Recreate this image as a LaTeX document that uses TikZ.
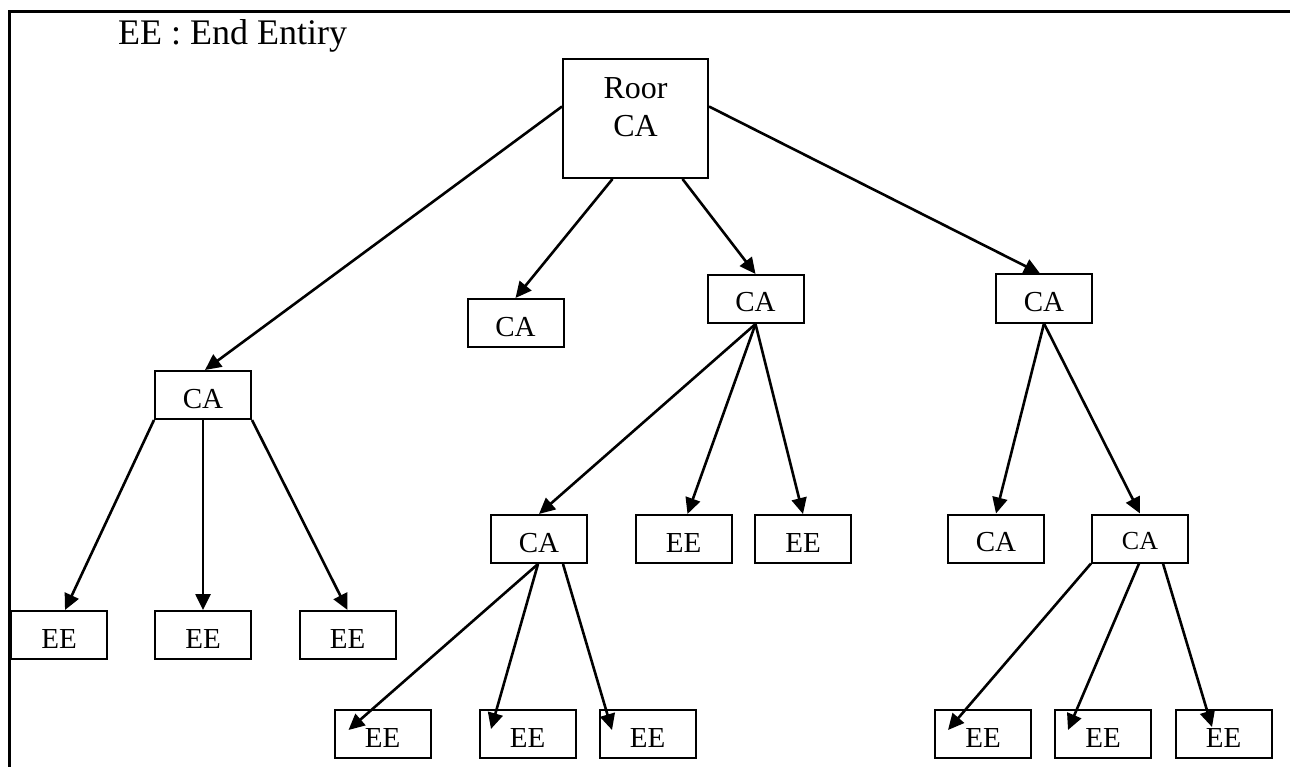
\documentclass[tikz,border=0pt]{standalone}
\usepackage{fontspec}
\setmainfont{Liberation Serif}
\usetikzlibrary{arrows.meta,calc}

\tikzset{
  box/.style={draw, line width=2pt, inner sep=0pt, minimum width=96pt, minimum height=48pt,
              font=\fontsize{29}{34}\selectfont, text height=26pt, text depth=0pt},
  link/.style={line width=2.6pt, -{Triangle[length=16pt,width=15pt]}},
  frame/.style={line width=3pt}
}

\begin{document}
\begin{tikzpicture}[x=1pt, y=-1pt]
  \useasboundingbox (0,0) rectangle (1290,767);

  % outer frame (only top and left edges show)
  \coordinate (fl) at (9,767);
  \coordinate (fc) at (9,12);
  \coordinate (fr) at (1290,12);
  \draw[frame] (fl) -- (fc) -- (fr);

  % legend
  \node[anchor=base west, inner sep=0pt, font=\fontsize{36}{42}\selectfont] (legend) at (118,45) {EE : End Entiry};

  % root certificate authority
  \node[draw, line width=2pt, inner sep=0pt, minimum width=145pt, minimum height=119pt,
        align=center, font=\fontsize{32}{38}\selectfont, text depth=22pt] (root) at (635.5,118.5) {Roor\\CA};

  % first level
  \node[box] (caL) at (203,395) {CA};
  \node[box] (caM) at (515.5,323) {CA};
  \node[box] (caN) at (755.5,299) {CA};
  \node[box] (caR) at (1044,298.5) {CA};

  % second level
  \node[box] (ee1) at (59,635) {EE};
  \node[box] (ee2) at (203,635) {EE};
  \node[box] (ee3) at (347.5,635) {EE};
  \node[box] (caP) at (539,539) {CA};
  \node[box] (eeA) at (683.5,539) {EE};
  \node[box] (eeB) at (803,539) {EE};
  \node[box] (caS) at (996,538.5) {CA};
  \node[box, font=\fontsize{26}{30}\selectfont, text height=21pt] (caT) at (1140,538.5) {CA};

  % third level
  \node[box] (g1) at (382.5,734) {EE};
  \node[box] (g2) at (527.5,734) {EE};
  \node[box] (g3) at (647.5,734) {EE};
  \node[box] (h1) at (983,734) {EE};
  \node[box] (h2) at (1103,734) {EE};
  \node[box] (h3) at (1223.5,734) {EE};

  % connectors
  \draw[link] ($(root.west)+(0,-12)$) -- ($(caL.north)+(2,0)$);
  \draw[link] ($(root.south)+(-23,0)$) -- (caM.north);
  \draw[link] ($(root.south)+(47,0)$) -- (caN.north);
  \draw[link] ($(root.east)+(0,-12)$) -- ($(caR.north)+(-4,0)$);

  \draw[link] (caL.south west) -- ($(ee1.north)+(6,0)$);
  \draw[link] (caL.south) -- (ee2.north);
  \draw[link] (caL.south east) -- (ee3.north);

  \draw[link] (caN.south) -- (caP.north);
  \draw[link] (caN.south) -- ($(eeA.north)+(4,0)$);
  \draw[link] (caN.south) -- (eeB.north);

  \draw[link] (caR.south) -- (caS.north);
  \draw[link] (caR.south) -- (caT.north);

  \draw[link] ($(caP.south)+(-1,0)$) -- ($(g1.center)+(-34,-4)$);
  \draw[link] ($(caP.south)+(-1,0)$) -- ($(g2.center)+(-36.5,-5)$);
  \draw[link] ($(caP.south)+(24,0)$) -- ($(g3.center)+(-35.5,-4)$);

  \draw[link] (caT.south west) -- ($(h1.center)+(-35,-4)$);
  \draw[link] ($(caT.south)+(-1,0)$) -- ($(h2.center)+(-35,-4)$);
  \draw[link] ($(caT.south)+(23,0)$) -- ($(h3.center)+(-11.5,-7)$);
\end{tikzpicture}
\end{document}
